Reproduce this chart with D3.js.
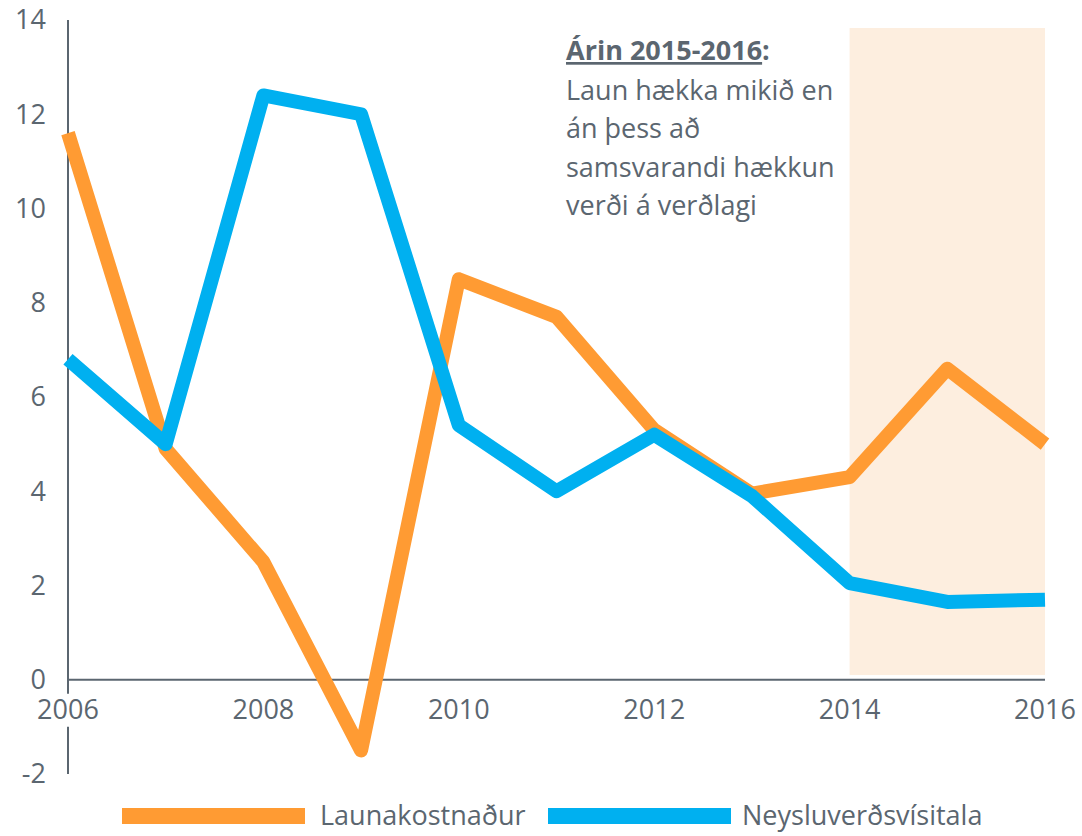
<!DOCTYPE html>
<html><head><meta charset="utf-8">
<script src="https://d3js.org/d3.v7.min.js"></script>
<style>body{margin:0;background:#fff}svg{display:block}text{font-family:"Open Sans",sans-serif}</style>
</head><body><svg id="c" width="1082" height="836"></svg>
<script>
const years = [2006,2007,2008,2009,2010,2011,2012,2013,2014,2015,2016];
const launakostnadur = [11.6,4.9,2.5,-1.5,8.5,7.7,5.3,3.95,4.3,6.6,5.0];
const neysluverdsvisitala = [6.8,5.0,12.4,12.0,5.4,4.0,5.2,3.9,2.05,1.65,1.7];
const yTicks = [-2,0,2,4,6,8,10,12,14];
const xTicks = [2006,2008,2010,2012,2014,2016];
const seriesNames = ["Launakostnaður","Neysluverðsvísitala"];
const highlight = [2014,2016];
const annotationTitle = "Árin 2015-2016";
const annotationLines = ["Laun hækka mikið en","án þess að","samsvarandi hækkun","verði á verðlagi"];

const svg = d3.select("#c");
const x = d3.scaleLinear().domain([2006,2016]).range([68,1045]);
const y = d3.scaleLinear().domain([-2,14]).range([774,20]);
const textCol = "#5b6670";
const colors = ["#FF9B33","#00B0F0"];
const fs = 27;

// highlight band
svg.append("rect").attr("x",x(highlight[0])).attr("width",x(highlight[1])-x(highlight[0]))
  .attr("y",y(13.83)).attr("height",y(0.1)-y(13.83)).attr("fill","#FDEEDF");

// axes
svg.append("line").attr("x1",x(2006)).attr("x2",x(2006)).attr("y1",y(14)).attr("y2",y(-2))
  .attr("stroke",textCol).attr("stroke-width",2);
svg.append("line").attr("x1",x(2006)).attr("x2",x(2016)).attr("y1",y(0)).attr("y2",y(0))
  .attr("stroke",textCol).attr("stroke-width",2);

// y tick labels
svg.append("g").selectAll("text").data(yTicks).join("text")
  .attr("x",46).attr("y",d=>y(d)).attr("dy","0.35em").attr("text-anchor","end")
  .attr("font-size",fs).attr("fill",textCol).text(d=>d);

// x tick labels
const xl = svg.append("g");
xTicks.forEach(t=>{
  const g = xl.append("g");
  const tx = g.append("text").attr("x",x(t)).attr("y",y(0)+39).attr("text-anchor","middle")
    .attr("font-size",fs).attr("fill",textCol).text(t);
  const b = tx.node().getBBox();
  g.insert("rect","text").attr("x",b.x-2).attr("y",b.y+4).attr("width",b.width+4).attr("height",b.height-4).attr("fill","#fff");
});

// lines
const line = d3.line().x((d,i)=>x(years[i])).y(d=>y(d));
[launakostnadur,neysluverdsvisitala].forEach((s,k)=>{
  svg.append("path").attr("d",line(s)).attr("fill","none").attr("stroke",colors[k])
    .attr("stroke-width",14).attr("stroke-linejoin","round").attr("stroke-linecap","butt");
});

// annotation
const ann = svg.append("text").attr("x",566).attr("font-size",fs).attr("fill",textCol);
ann.append("tspan").attr("x",566).attr("y",60).attr("font-weight","bold").attr("text-decoration","underline").text(annotationTitle);
ann.append("tspan").attr("font-weight","bold").text(":");
annotationLines.forEach((l,i)=>{
  ann.append("tspan").attr("x",566).attr("y",61+38.5*(i+1)).text(l);
});

// legend
const leg = [{x:122,tx:320},{x:548,tx:742}];
seriesNames.forEach((n,k)=>{
  svg.append("rect").attr("x",leg[k].x).attr("y",808).attr("width",183).attr("height",16).attr("fill",colors[k]);
  svg.append("text").attr("x",leg[k].tx).attr("y",816).attr("dy","0.35em").attr("font-size",fs).attr("fill",textCol).text(n);
});
</script></body></html>
